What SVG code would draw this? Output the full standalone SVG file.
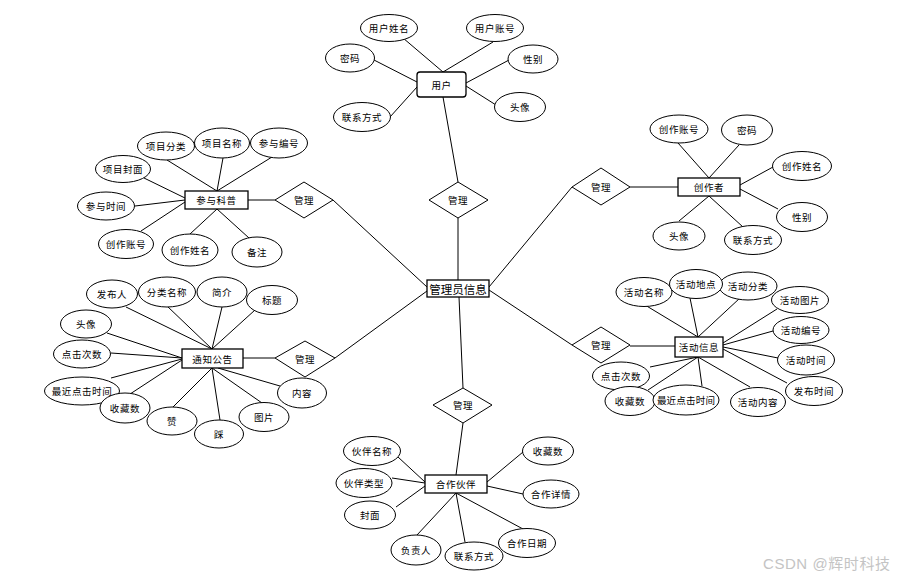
<svg xmlns="http://www.w3.org/2000/svg" width="899" height="577" viewBox="0 0 899 577">
<style>
.e{fill:#fff;stroke:#000;stroke-width:1}
.b{fill:#fff;stroke:#000;stroke-width:1.3}
.d{fill:#fff;stroke:#000;stroke-width:1}
.t{font-family:"Noto Sans CJK SC","Liberation Sans",sans-serif;font-size:9.5px;letter-spacing:0.6px;fill:#000;text-anchor:middle;dominant-baseline:central}
.c line{stroke:#000;stroke-width:1}
.w{font-family:"Liberation Sans","Noto Sans CJK SC",sans-serif;font-size:15px;fill:#c4c4c4}
</style>
<rect width="899" height="577" fill="#fff"/>
<g class="c" id="connectors">
<line x1="403" y1="38" x2="443" y2="72"/>
<line x1="493" y1="42" x2="443" y2="72"/>
<line x1="374" y1="60" x2="417" y2="82"/>
<line x1="390" y1="117" x2="417" y2="87"/>
<line x1="509" y1="60" x2="466" y2="83"/>
<line x1="496" y1="105" x2="466" y2="86"/>
<line x1="443" y1="97" x2="458" y2="182"/>
<line x1="458" y1="218" x2="458" y2="280"/>
<line x1="167" y1="160" x2="217" y2="191"/>
<line x1="223" y1="158" x2="217" y2="191"/>
<line x1="272" y1="157" x2="217" y2="191"/>
<line x1="144" y1="178" x2="185" y2="198"/>
<line x1="135" y1="206" x2="185" y2="200"/>
<line x1="141" y1="231" x2="185" y2="202"/>
<line x1="190" y1="234" x2="217" y2="209"/>
<line x1="249" y1="238" x2="217" y2="209"/>
<line x1="248" y1="200" x2="275" y2="200"/>
<line x1="333" y1="200" x2="427" y2="287"/>
<line x1="126" y1="307" x2="212" y2="349"/>
<line x1="167" y1="306" x2="212" y2="349"/>
<line x1="222" y1="307" x2="212" y2="349"/>
<line x1="255" y1="310" x2="212" y2="349"/>
<line x1="107" y1="333" x2="182" y2="358"/>
<line x1="111" y1="353" x2="182" y2="358"/>
<line x1="111" y1="378" x2="182" y2="359"/>
<line x1="127" y1="396" x2="182" y2="360"/>
<line x1="172" y1="408" x2="212" y2="368"/>
<line x1="220" y1="420" x2="212" y2="368"/>
<line x1="262" y1="403" x2="212" y2="368"/>
<line x1="280" y1="386" x2="218" y2="368"/>
<line x1="243" y1="358" x2="275" y2="358"/>
<line x1="335" y1="358" x2="427" y2="291"/>
<line x1="678" y1="143" x2="709" y2="178"/>
<line x1="739" y1="145" x2="709" y2="178"/>
<line x1="773" y1="167" x2="740" y2="185"/>
<line x1="778" y1="209" x2="740" y2="189"/>
<line x1="679" y1="221" x2="709" y2="196"/>
<line x1="743" y1="227" x2="709" y2="196"/>
<line x1="630" y1="187" x2="678" y2="187"/>
<line x1="572" y1="187" x2="489" y2="287"/>
<line x1="645" y1="305" x2="698" y2="337"/>
<line x1="690" y1="298" x2="698" y2="337"/>
<line x1="740" y1="298" x2="698" y2="337"/>
<line x1="777" y1="309" x2="723" y2="343"/>
<line x1="773" y1="331" x2="723" y2="345"/>
<line x1="778" y1="358" x2="723" y2="347"/>
<line x1="787" y1="383" x2="723" y2="349"/>
<line x1="650" y1="367" x2="698" y2="357"/>
<line x1="648" y1="390" x2="698" y2="357"/>
<line x1="702" y1="386" x2="698" y2="357"/>
<line x1="750" y1="387" x2="698" y2="357"/>
<line x1="630" y1="346" x2="675" y2="346"/>
<line x1="572" y1="345" x2="489" y2="290"/>
<line x1="459" y1="297" x2="463" y2="388"/>
<line x1="463" y1="423" x2="456" y2="475"/>
<line x1="398" y1="457" x2="425" y2="482"/>
<line x1="392" y1="478" x2="425" y2="483"/>
<line x1="396" y1="507" x2="425" y2="486"/>
<line x1="417" y1="535" x2="456" y2="493"/>
<line x1="465" y1="542" x2="456" y2="493"/>
<line x1="523" y1="529" x2="456" y2="493"/>
<line x1="523" y1="452" x2="487" y2="482"/>
<line x1="523" y1="494" x2="487" y2="486"/>
</g>

<g id="center"><rect class="b" x="427" y="280" width="62" height="17"/><text class="t" x="458" y="288.5" style="font-size:11.5px;letter-spacing:0">管理员信息</text></g>

<g id="user"><rect class="b" x="417" y="72" width="49" height="25" rx="3"/><text class="t" x="441.5" y="84.5">用户</text></g>
<g id="u-name"><ellipse class="e" cx="389" cy="28" rx="28.5" ry="13.5"/><text class="t" x="389" y="28">用户姓名</text></g>
<g id="u-acc"><ellipse class="e" cx="495" cy="28" rx="28.5" ry="13.5"/><text class="t" x="495" y="28">用户账号</text></g>
<g id="u-pwd"><ellipse class="e" cx="350" cy="58" rx="24.5" ry="14"/><text class="t" x="350" y="58">密码</text></g>
<g id="u-sex"><ellipse class="e" cx="533" cy="59" rx="25" ry="14"/><text class="t" x="533" y="59">性别</text></g>
<g id="u-tel"><ellipse class="e" cx="362" cy="117" rx="28.5" ry="14.5"/><text class="t" x="362" y="117">联系方式</text></g>
<g id="u-ava"><ellipse class="e" cx="520" cy="107" rx="25.5" ry="14.5"/><text class="t" x="520" y="107">头像</text></g>
<g id="r-user"><polygon class="d" points="458,182 488,200 458,218 429,200"/><text class="t" x="458" y="200">管理</text></g>

<g id="participate"><rect class="b" x="185" y="191" width="63" height="18"/><text class="t" x="216.5" y="200">参与科普</text></g>
<g id="p-cat"><ellipse class="e" cx="166" cy="146" rx="28.5" ry="14"/><text class="t" x="166" y="146">项目分类</text></g>
<g id="p-name"><ellipse class="e" cx="222" cy="143" rx="27.5" ry="15"/><text class="t" x="222" y="143">项目名称</text></g>
<g id="p-no"><ellipse class="e" cx="279" cy="143" rx="28.5" ry="15"/><text class="t" x="279" y="143">参与编号</text></g>
<g id="p-cover"><ellipse class="e" cx="123" cy="169" rx="27.5" ry="13.5"/><text class="t" x="123" y="169">项目封面</text></g>
<g id="p-time"><ellipse class="e" cx="106" cy="206" rx="28.5" ry="14"/><text class="t" x="106" y="206">参与时间</text></g>
<g id="p-acc"><ellipse class="e" cx="126" cy="244" rx="27.5" ry="14.5"/><text class="t" x="126" y="244">创作账号</text></g>
<g id="p-uname"><ellipse class="e" cx="190" cy="250" rx="28" ry="16"/><text class="t" x="190" y="250">创作姓名</text></g>
<g id="p-note"><ellipse class="e" cx="257" cy="252" rx="25" ry="15"/><text class="t" x="257" y="252">备注</text></g>
<g id="r-part"><polygon class="d" points="304,182 333,200 304,218 275,200"/><text class="t" x="304" y="200">管理</text></g>

<g id="creator"><rect class="b" x="678" y="178" width="62" height="18"/><text class="t" x="709" y="187">创作者</text></g>
<g id="c-acc"><ellipse class="e" cx="679" cy="129" rx="29" ry="14"/><text class="t" x="679" y="129">创作账号</text></g>
<g id="c-pwd"><ellipse class="e" cx="747" cy="130" rx="25.5" ry="15"/><text class="t" x="747" y="130">密码</text></g>
<g id="c-name"><ellipse class="e" cx="802" cy="166" rx="29.5" ry="14.5"/><text class="t" x="802" y="166">创作姓名</text></g>
<g id="c-sex"><ellipse class="e" cx="802" cy="217" rx="25.5" ry="14.5"/><text class="t" x="802" y="217">性别</text></g>
<g id="c-ava"><ellipse class="e" cx="679" cy="236" rx="26" ry="14"/><text class="t" x="679" y="236">头像</text></g>
<g id="c-tel"><ellipse class="e" cx="753" cy="240" rx="28.5" ry="14.5"/><text class="t" x="753" y="240">联系方式</text></g>
<g id="r-creator"><polygon class="d" points="601,168 630,187 601,205 572,187"/><text class="t" x="601" y="187">管理</text></g>

<g id="notice"><rect class="b" x="182" y="349" width="61" height="19"/><text class="t" x="212.5" y="358.5">通知公告</text></g>
<g id="n-pub"><ellipse class="e" cx="112" cy="294" rx="25.5" ry="14"/><text class="t" x="112" y="294">发布人</text></g>
<g id="n-cat"><ellipse class="e" cx="167" cy="292" rx="28.5" ry="15"/><text class="t" x="167" y="292">分类名称</text></g>
<g id="n-intro"><ellipse class="e" cx="222" cy="292" rx="25" ry="15"/><text class="t" x="222" y="292">简介</text></g>
<g id="n-title"><ellipse class="e" cx="272" cy="300" rx="25.5" ry="14.5"/><text class="t" x="272" y="300">标题</text></g>
<g id="n-ava"><ellipse class="e" cx="86" cy="324" rx="25.5" ry="14"/><text class="t" x="86" y="324">头像</text></g>
<g id="n-clk"><ellipse class="e" cx="82" cy="354" rx="28.5" ry="14"/><text class="t" x="82" y="354">点击次数</text></g>
<g id="n-last"><ellipse class="e" cx="82" cy="391" rx="37.5" ry="14"/><text class="t" x="82" y="391">最近点击时间</text></g>
<g id="n-fav"><ellipse class="e" cx="125" cy="408" rx="25" ry="15"/><text class="t" x="125" y="408">收藏数</text></g>
<g id="n-up"><ellipse class="e" cx="172" cy="421" rx="25" ry="14"/><text class="t" x="172" y="421">赞</text></g>
<g id="n-down"><ellipse class="e" cx="219" cy="434" rx="24.5" ry="14"/><text class="t" x="219" y="434">踩</text></g>
<g id="n-pic"><ellipse class="e" cx="264" cy="417" rx="25" ry="14.5"/><text class="t" x="264" y="417">图片</text></g>
<g id="n-content"><ellipse class="e" cx="302" cy="393" rx="24.5" ry="15"/><text class="t" x="302" y="393">内容</text></g>
<g id="r-notice"><polygon class="d" points="305,341 335,358 305,377 275,358"/><text class="t" x="305" y="359">管理</text></g>

<g id="activity"><rect class="b" x="675" y="337" width="48" height="20"/><text class="t" x="699" y="347">活动信息</text></g>
<g id="a-name"><ellipse class="e" cx="644" cy="292" rx="28" ry="14.5"/><text class="t" x="644" y="292">活动名称</text></g>
<g id="a-cat"><ellipse class="e" cx="748" cy="286" rx="29" ry="14"/><text class="t" x="748" y="286">活动分类</text></g>
<g id="a-place"><ellipse class="e" cx="696" cy="284" rx="26.5" ry="14.5"/><text class="t" x="696" y="284">活动地点</text></g>
<g id="a-pic"><ellipse class="e" cx="800" cy="300" rx="28.5" ry="13.5"/><text class="t" x="800" y="300">活动图片</text></g>
<g id="a-no"><ellipse class="e" cx="801" cy="330" rx="28" ry="13.5"/><text class="t" x="801" y="330">活动编号</text></g>
<g id="a-time"><ellipse class="e" cx="806" cy="360" rx="28.5" ry="15"/><text class="t" x="806" y="360">活动时间</text></g>
<g id="a-pubtime"><ellipse class="e" cx="814" cy="391" rx="28.5" ry="14.5"/><text class="t" x="814" y="391">发布时间</text></g>
<g id="r-act"><polygon class="d" points="601,327 630,345 601,363 572,345"/><text class="t" x="601" y="345">管理</text></g>
<g id="a-clk"><ellipse class="e" cx="621" cy="376" rx="28.5" ry="14"/><text class="t" x="621" y="376">点击次数</text></g>
<g id="a-fav"><ellipse class="e" cx="630" cy="401" rx="25" ry="14.5"/><text class="t" x="630" y="401">收藏数</text></g>
<g id="a-last"><ellipse class="e" cx="686" cy="400" rx="33" ry="15"/><text class="t" x="686" y="400" style="letter-spacing:0.2px">最近点击时间</text></g>
<g id="a-content"><ellipse class="e" cx="758" cy="402" rx="27.5" ry="14.5"/><text class="t" x="758" y="402">活动内容</text></g>

<g id="r-partner"><polygon class="d" points="463,388 492,405 463,423 433,405"/><text class="t" x="463" y="405">管理</text></g>
<g id="partner"><rect class="b" x="425" y="475" width="62" height="18"/><text class="t" x="456" y="484">合作伙伴</text></g>
<g id="pt-name"><ellipse class="e" cx="372" cy="451" rx="28.5" ry="14.5"/><text class="t" x="372" y="451">伙伴名称</text></g>
<g id="pt-type"><ellipse class="e" cx="364" cy="483" rx="28" ry="14.5"/><text class="t" x="364" y="483">伙伴类型</text></g>
<g id="pt-cover"><ellipse class="e" cx="370" cy="515" rx="25.5" ry="14"/><text class="t" x="370" y="515">封面</text></g>
<g id="pt-owner"><ellipse class="e" cx="416" cy="550" rx="25" ry="15"/><text class="t" x="416" y="550">负责人</text></g>
<g id="pt-tel"><ellipse class="e" cx="474" cy="556" rx="29" ry="14"/><text class="t" x="474" y="556">联系方式</text></g>
<g id="pt-date"><ellipse class="e" cx="527" cy="543" rx="28.5" ry="14.5"/><text class="t" x="527" y="543">合作日期</text></g>
<g id="pt-fav"><ellipse class="e" cx="548" cy="451" rx="25.5" ry="14"/><text class="t" x="548" y="451">收藏数</text></g>
<g id="pt-detail"><ellipse class="e" cx="551" cy="494" rx="28" ry="14"/><text class="t" x="551" y="494">合作详情</text></g>

<text class="w" x="763" y="569" textLength="127" lengthAdjust="spacing">CSDN @辉时科技</text>
</svg>
